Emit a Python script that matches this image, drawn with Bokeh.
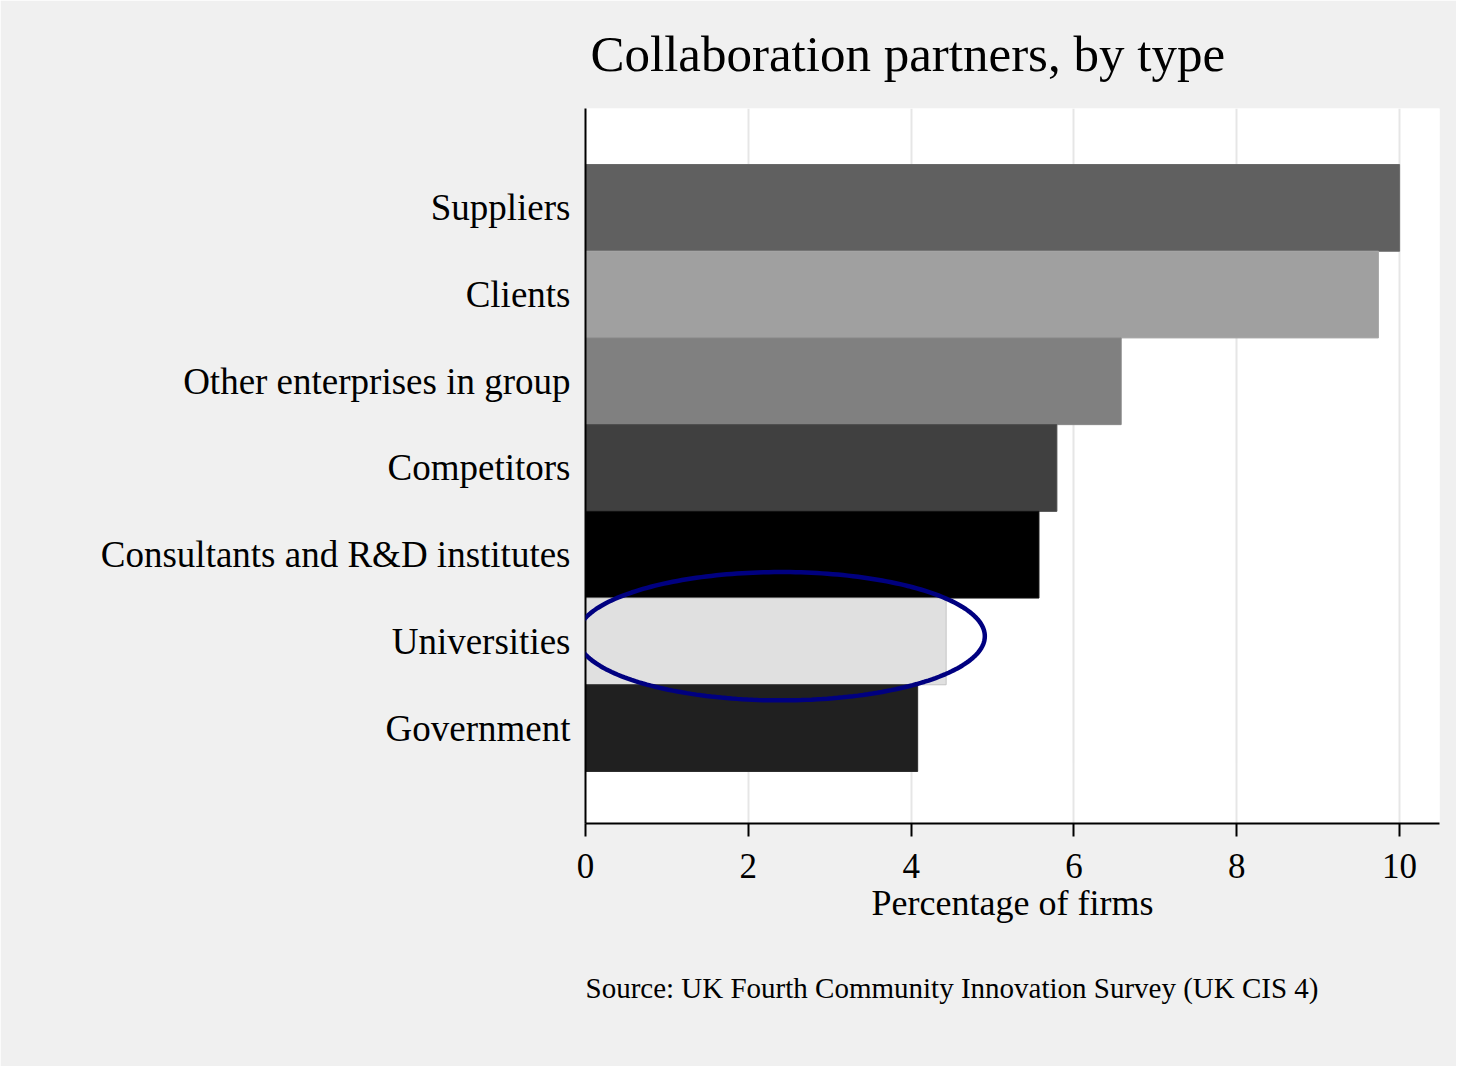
import numpy as np
from bokeh.plotting import figure
from bokeh.models import Range1d, Title, PolyAnnotation, FixedTicker, ColumnDataSource
from bokeh.embed import file_html
from bokeh.resources import INLINE

# ---- data ----
categories = ["Suppliers", "Clients", "Other enterprises in group", "Competitors",
              "Consultants and R&D institutes", "Universities", "Government"]
values = [10.0, 9.74, 6.58, 5.79, 5.57, 4.43, 4.08]
x_ticks = [0, 2, 4, 6, 8, 10]
title_text = "Collaboration partners, by type"
x_label = "Percentage of firms"
source_text = "Source: UK Fourth Community Innovation Survey (UK CIS 4)"
highlight = "Universities"

# ---- styles ----
bar_colors = ["#606060", "#a0a0a0", "#808080", "#404040", "#000000", "#e0e0e0", "#202020"]
bar_lines = ["#6a6a6a", "#a8a8a8", "#888888", "#4a4a4a", "#111111", "#c4c4c4", "#2c2c2c"]
FONT = "Liberation Serif"

n = len(categories)
ypos = [n - 1 - i for i in range(n)]

src = ColumnDataSource(dict(y=ypos, v=values, c=bar_colors, lc=bar_lines, cat=categories))

Y0, Y1 = -1.1, 7.146
p = figure(frame_width=854, frame_height=715, output_backend="svg", toolbar_location=None,
           x_range=Range1d(0, 10.49), y_range=Range1d(Y0, Y1),
           min_border_left=585, min_border_right=17, min_border_top=107, min_border_bottom=243)

p.background_fill_color = "white"
p.border_fill_color = "#f0f0f0"
p.outline_line_color = None

p.hbar(y="y", right="v", left=0, height=1.0, fill_color="c", line_color="lc", line_width=1, source=src)

# highlight ellipse around the Universities bar
hy = ypos[categories.index(highlight)]
cx, cy, ew, eh = 2.40, hy + 0.06, 5.01, 1.48
t = np.linspace(0, 2 * np.pi, 240)
ex = list(cx + ew / 2 * np.cos(t))
ey = list(cy + eh / 2 * np.sin(t))
p.add_layout(PolyAnnotation(xs=ex, ys=ey, fill_alpha=0, line_color="#000080",
                            line_alpha=1.0, line_width=4.5))

# title
p.title.text = title_text
p.title.text_font = FONT
p.title.text_font_size = "51px"
p.title.text_font_style = "normal"
p.title.text_color = "black"
p.title.align = "left"
p.title.vertical_align = "top"
p.title.offset = 5
p.title.standoff = 50

# grid
p.ygrid.grid_line_color = None
p.xgrid.ticker = FixedTicker(ticks=x_ticks)
p.xgrid.grid_line_color = "#e6e6e6"
p.xgrid.grid_line_width = 2

# x axis
xa = p.xaxis[0]
xa.ticker = FixedTicker(ticks=x_ticks)
xa.axis_label = x_label
xa.axis_label_text_font = FONT
xa.axis_label_text_font_size = "36px"
xa.axis_label_text_font_style = "normal"
xa.axis_label_text_color = "black"
xa.axis_label_standoff = 2
xa.major_label_text_font = FONT
xa.major_label_text_font_size = "35px"
xa.major_label_text_color = "black"
xa.major_label_standoff = 17
xa.major_tick_out = 13
xa.major_tick_in = 0
xa.minor_tick_out = 0
xa.minor_tick_in = 0
xa.axis_line_width = 2
xa.major_tick_line_width = 2
xa.axis_line_color = "black"
xa.major_tick_line_color = "black"

# y axis
ya = p.yaxis[0]
ya.ticker = FixedTicker(ticks=ypos)
ya.major_label_overrides = {y: c for y, c in zip(ypos, categories)}
ya.major_label_text_font = FONT
ya.major_label_text_font_size = "37px"
ya.major_label_text_color = "black"
ya.major_label_standoff = 15
ya.major_tick_out = 0
ya.major_tick_in = 0
ya.minor_tick_out = 0
ya.minor_tick_in = 0
ya.axis_line_width = 2
ya.axis_line_color = "black"

# source note below the axis
p.add_layout(Title(text=source_text, align="left", offset=0, standoff=88,
                   text_font=FONT, text_font_size="29px", text_font_style="normal",
                   text_color="black"), "below")

open("out.html", "w").write(file_html(p, INLINE))
